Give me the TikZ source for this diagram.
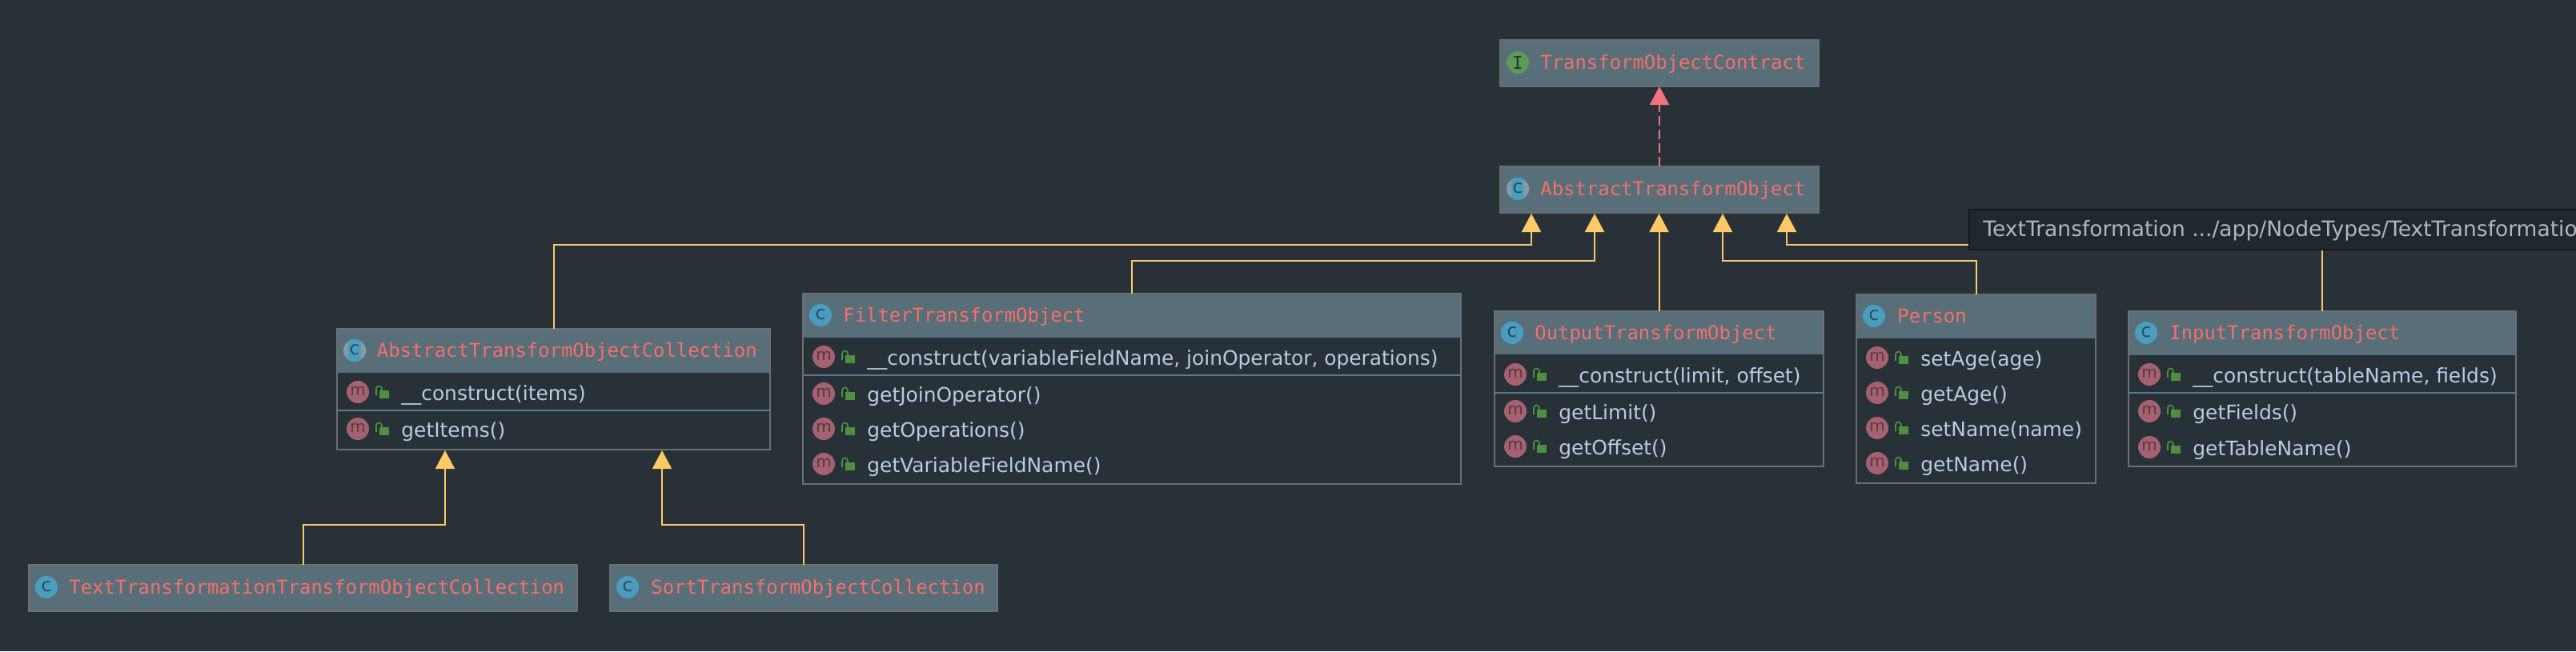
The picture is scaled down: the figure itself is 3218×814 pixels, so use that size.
\documentclass[tikz,border=0pt]{standalone}
\usepackage{fontspec}
\usetikzlibrary{arrows.meta}
\setmainfont{DejaVu Sans}
\newfontfamily\monof{DejaVu Sans Mono}
\definecolor{bgc}{HTML}{283138}
\definecolor{headc}{HTML}{586E79}
\definecolor{edgec}{HTML}{6B6F70}
\definecolor{sepc}{HTML}{5B7A8A}
\definecolor{titlec}{HTML}{F4706A}
\definecolor{memc}{HTML}{BCCAE2}
\definecolor{inhc}{HTML}{FFC966}
\definecolor{impc}{HTML}{F4737B}
\definecolor{mredc}{HTML}{A4616F}
\definecolor{lockc}{HTML}{4F9040}
\definecolor{cblue}{HTML}{4A9DBF}
\definecolor{absgray}{HTML}{8A9BA6}
\definecolor{igreen}{HTML}{5C9A58}
\definecolor{tipc}{HTML}{1F282E}
\definecolor{tipedge}{HTML}{12181C}
\definecolor{tipt}{HTML}{AEB9BE}
\definecolor{icont}{HTML}{2A4A5E}
\definecolor{mt}{HTML}{5A3A44}
\tikzset{x=0.5pt,y=-0.5pt,
 umlbox/.style={anchor=north west,inner sep=0pt,outer sep=0pt,fill=bgc},
 titlet/.style={anchor=base west,inner sep=0pt,text=titlec,font=\monof\fontsize{11.95}{14}\selectfont},
 memt/.style={anchor=base west,inner sep=0pt,text=memc,font=\fontsize{12.45}{15}\selectfont},
 icotext/.style={inner sep=0pt,font=\fontsize{11.5}{12}\selectfont},
 inh/.style={draw=inhc,line width=1pt,-{Triangle[length=11.5pt,width=12pt,fill=inhc]}},
 imp/.style={draw=impc,line width=1pt,dash pattern=on 6pt off 2.5pt,-{Triangle[length=11.5pt,width=12pt,fill=impc]}},
}
% \ubox{name}{x1}{y1}{x2}{y2}{header bottom}
\newcommand{\ubox}[6]{%
 \node[umlbox,minimum width={(#4-#2)*0.5pt},minimum height={(#5-#3)*0.5pt}] (#1) at (#2,#3) {};
 \fill[headc] (#2,#3) rectangle (#4,#6);
 \draw[edgec,line width=1pt] (#2,#3) rectangle (#4,#5);
}
\newcommand{\cicon}[2]{%
 \fill[cblue] (#1,#2) circle (14);
 \node[icotext,text=icont] at (#1,#2-1) {c};
}
\newcommand{\acicon}[2]{%
 \fill[absgray] (#1,#2) circle (14);
 \begin{scope}
 \clip (#1,#2) circle (14);
 \fill[cblue] (#1-8,#2-14) rectangle (#1+8,#2+14);
 \end{scope}
 \node[icotext,text=icont] at (#1,#2-1) {c};
}
\newcommand{\mrow}[3]{%
 \fill[mredc] (#1+26,#2) circle (14);
 \node[inner sep=0pt,text=mt,font=\fontsize{10}{11}\selectfont] at (#1+26,#2-1) {m};
 \fill[lockc] (#1+53,#2-2) rectangle (#1+65,#2+8);
 \draw[lockc,line width=0.8pt] (#1+49,#2+4) -- (#1+49,#2-4) arc (180:360:3.5) -- (#1+56,#2-2);
 \node[memt] at (#1+80,#2+10) {#3};
}
\begin{document}
\begin{tikzpicture}
\useasboundingbox (0,0) rectangle (3218,814);
\fill[bgc] (0,0) rectangle (3218,814);
% top boxes
\ubox{a}{1874}{50}{2272}{108}{108}
\fill[igreen] (1896,78) circle (14);
\node[inner sep=0pt,text=bgc,font=\monof\fontsize{11}{12}\selectfont] at (1896,78) {I};
\node[titlet] at (1924,86) {TransformObjectContract};
\ubox{b}{1874}{208}{2272}{266}{266}
\acicon{1896}{236}
\node[titlet] at (1924,244) {AbstractTransformObject};
% ATOC
\ubox{c}{421}{411}{962}{562}{466}
\acicon{443}{438}
\node[titlet] at (470.5,446) {AbstractTransformObjectCollection};
\draw[sepc,line width=1pt] (422,513) -- (961,513);
\mrow{421}{490}{\_\_construct(items)}
\mrow{421}{536}{getItems()}
% Filter
\ubox{d}{1003}{367}{1825}{605}{422}
\cicon{1025}{394}
\node[titlet] at (1053,402) {FilterTransformObject};
\draw[sepc,line width=1pt] (1004,469) -- (1824,469);
\mrow{1003}{446}{\_\_construct(variableFieldName, joinOperator, operations)}
\mrow{1003}{492}{getJoinOperator()}
\mrow{1003}{536}{getOperations()}
\mrow{1003}{580}{getVariableFieldName()}
% Output
\ubox{e}{1867}{389}{2278}{583}{443}
\cicon{1889}{416}
\node[titlet] at (1917,424) {OutputTransformObject};
\draw[sepc,line width=1pt] (1868,491) -- (2277,491);
\mrow{1867}{468}{\_\_construct(limit, offset)}
\mrow{1867}{514}{getLimit()}
\mrow{1867}{558}{getOffset()}
% Person
\ubox{f}{2319}{368}{2618}{604}{423}
\cicon{2341}{395}
\node[titlet] at (2370,403) {Person};
\mrow{2319}{447}{setAge(age)}
\mrow{2319}{491}{getAge()}
\mrow{2319}{535}{setName(name)}
\mrow{2319}{579}{getName()}
% Input
\ubox{g}{2659}{389}{3143}{583}{444}
\cicon{2681}{416}
\node[titlet] at (2710,424) {InputTransformObject};
\draw[sepc,line width=1pt] (2660,491) -- (3142,491);
\mrow{2659}{468}{\_\_construct(tableName, fields)}
\mrow{2659}{514}{getFields()}
\mrow{2659}{559}{getTableName()}
% bottom
\ubox{h}{36}{706}{721}{764}{764}
\cicon{58}{734}
\node[titlet] at (86,742) {TextTransformationTransformObjectCollection};
\ubox{i}{762}{706}{1246}{764}{764}
\cicon{784}{734}
\node[titlet] at (813,742) {SortTransformObjectCollection};
% connector end points
\coordinate (b1) at (1913,267);
\coordinate (b2) at (1992,267);
\coordinate (b3) at (2072,267);
\coordinate (b4) at (2152,267);
\coordinate (b5) at (2232,267);
\coordinate (c1) at (556,563);
\coordinate (c2) at (827,563);
\coordinate (r1) at (0,306);
\coordinate (r2) at (0,326);
\coordinate (r3) at (0,656);
% connectors
\draw[inh] (c.north) -- (c.north |- r1) -- (b1 |- r1) -- (b1);
\draw[inh] (d.north) -- (d.north |- r2) -- (b2 |- r2) -- (b2);
\draw[inh] (e.north) -- (e.north |- b3);
\draw[inh] (f.north) -- (f.north |- r2) -- (b4 |- r2) -- (b4);
\draw[inh] (g.north) -- (g.north |- r1) -- (b5 |- r1) -- (b5);
\draw[inh] (h.north) -- (h.north |- r3) -- (c1 |- r3) -- (c1);
\draw[inh] (i.north) -- (i.north |- r3) -- (c2 |- r3) -- (c2);
\draw[imp] (b.north) -- (a.south);
% tooltip
\begin{scope}
\clip (0,0) rectangle (3218,814);
\node[anchor=north west,inner sep=0pt,outer sep=0pt,fill=tipc,draw=tipedge,line width=1pt,minimum width=390pt,minimum height=25pt] (tip) at (2460,262) {};
\node[anchor=base west,inner sep=0pt,text=tipt,font=\fontsize{13.25}{15}\selectfont] (tiptext) at (2477,295) {TextTransformation .../app/NodeTypes/TextTransformatio};
\end{scope}
\end{tikzpicture}
\end{document}
